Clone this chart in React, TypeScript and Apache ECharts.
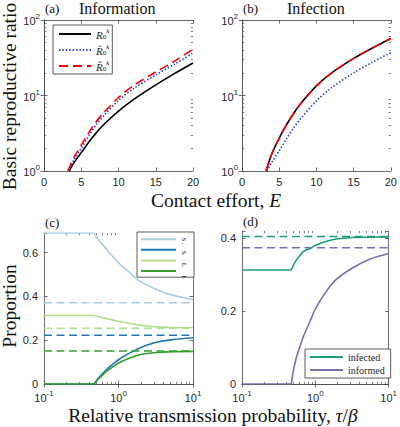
import { useEffect, useRef } from "react";
import * as echarts from "echarts";

// ---------- Panel (a) Information: E vs basic reproductive ratio ----------
const E_A_R0 = [3.4, 4, 5, 6, 7, 8, 10, 12, 15, 17.5, 20];
const R_A_R0 = [1, 1.28, 1.75, 2.4, 3.2, 4.1, 6.2, 8.8, 13.8, 19.5, 27];
const E_A_HAT = [3.25, 4, 5, 6, 7, 8, 10, 12, 15, 17.5, 20];
const R_A_HAT = [1, 1.4, 2.0, 2.9, 4.1, 5.4, 8.6, 12.3, 18.7, 26, 36.5];
const E_A_TIL = [3.2, 4, 5, 6, 7, 8, 10, 12, 15, 17.5, 20];
const R_A_TIL = [1, 1.5, 2.2, 3.2, 4.5, 5.9, 9.4, 13.5, 20.5, 28.5, 41];

// ---------- Panel (b) Infection ----------
const E_B_R0 = [3.22, 4, 5, 6, 7, 8, 10, 12, 15, 17.5, 20];
const R_B_R0 = [1, 1.68, 2.73, 4.13, 5.9, 8.05, 13.4, 19.8, 31, 42.5, 57];
const E_B_HAT = [3.35, 4, 5, 6, 7, 8, 10, 12, 15, 17.5, 20];
const R_B_HAT = [1, 1.3, 1.85, 2.7, 3.8, 5.1, 8.5, 12.6, 20, 27.5, 37];
const E_B_TIL = [3.22, 4, 5, 6, 7, 8, 10, 12, 15, 17.5, 20];
const R_B_TIL = [1, 1.68, 2.73, 4.13, 5.9, 8.05, 13.4, 19.8, 31, 42.5, 57];

// ---------- Panel (c) proportions vs tau/beta ----------
// index 0..1 is the flat part (tau below threshold), 1.. the curved part
const TAU = [0.1, 0.47, 0.5, 0.55, 0.62, 0.69, 0.85, 1, 1.42, 1.93, 3.24, 5.42, 10];
const C_SU = [0.69, 0.69, 0.675, 0.655, 0.635, 0.615, 0.58, 0.554, 0.508, 0.47, 0.432, 0.405, 0.386];
const C_SI = [0, 0, 0.013, 0.031, 0.05, 0.066, 0.092, 0.111, 0.142, 0.165, 0.191, 0.203, 0.211];
const C_IU = [0.313, 0.313, 0.311, 0.307, 0.303, 0.299, 0.292, 0.287, 0.277, 0.269, 0.261, 0.258, 0.257];
const C_II = [0, 0, 0.011, 0.026, 0.043, 0.058, 0.08, 0.096, 0.119, 0.134, 0.144, 0.148, 0.149];
const C_SU_EQ = 0.371;
const C_SI_EQ = 0.223;
const C_IU_EQ = 0.255;
const C_II_EQ = 0.151;
const C_LABELS = ["Sᵤ", "Sᵢ", "Iᵤ", "Iᵢ"];

// ---------- Panel (d) infected / informed ----------
const D_INFECTED = [0.313, 0.313, 0.325, 0.34, 0.353, 0.364, 0.372, 0.38, 0.392, 0.398, 0.402, 0.403, 0.404];
const D_INFORMED = [0, 0, 0.035, 0.072, 0.104, 0.131, 0.173, 0.206, 0.255, 0.287, 0.319, 0.342, 0.358];
const D_INFECTED_EQ = 0.405;
const D_INFORMED_EQ = 0.374;

const TAU_RANGE = [0.1, 10];
const R_MAJOR = [1, 10, 100];
const TAU_MAJOR = [0.1, 1, 10];
const LOG_MINOR_Y = [2, 3, 4, 5, 6, 7, 8, 9, 20, 30, 40, 50, 60, 70, 80, 90];
const LOG_MINOR_X = [0.2, 0.3, 0.4, 0.5, 0.6, 0.7, 0.8, 0.9, 2, 3, 4, 5, 6, 7, 8, 9];

const zip = (xs: number[], ys: number[]) => xs.map((x, i) => [x, ys[i]]);
const flat = (v: number) => TAU_RANGE.map((x) => [x, v]);

const AX = "#4a4a4a";
const TXT = "#262626";
const SANS = "Liberation Sans, Arial, sans-serif";
const SERIF = "Liberation Serif, Times New Roman, serif";

const supRich = {
  b: { fontSize: 11, fontFamily: SANS, color: TXT, verticalAlign: "bottom", lineHeight: 13 },
  e: { fontSize: 8, fontFamily: SANS, color: TXT, verticalAlign: "bottom", lineHeight: 13, padding: [0, 0, 6, 0] },
};
const expFmt = (v: number) => `{b|10}{e|${Math.round(Math.log10(v))}}`;

const COLORS = {
  su: "#a6cee3",
  si: "#1f78b4",
  iu: "#b2df8a",
  ii: "#33a02c",
  infected: "#1b9e77",
  informed: "#7570b3",
};

export default function App() {
  const ref = useRef<HTMLDivElement>(null);
  useEffect(() => {
    if (!ref.current) return;
    const chart = echarts.init(ref.current, undefined, { renderer: "svg" });

    const grids = [
      { left: 44, top: 20, width: 149, height: 151 },
      { left: 242, top: 20, width: 149, height: 151 },
      { left: 44, top: 233, width: 149, height: 151 },
      { left: 242, top: 231, width: 149, height: 153 },
    ];

    const axLine = { show: true, lineStyle: { color: AX, width: 0.8 } };
    const tick = (custom?: number[]) => ({
      show: true, inside: true, length: 3.5, lineStyle: { color: AX, width: 0.8 },
      ...(custom ? { customValues: custom } : {}),
    });
    const noLabel = { show: false };

    const mk = (g: number, pos: string, base: any, label: any, custom?: number[]) => ({
      gridIndex: g, position: pos, ...base, axisLine: axLine, axisTick: tick(custom), splitLine: { show: false }, axisLabel: label,
    });
    const minorAx = (g: number, pos: string, base: any, vals: number[]) => ({
      gridIndex: g, position: pos, ...base, axisLine: { show: false }, splitLine: { show: false }, axisLabel: { show: false },
      axisTick: { show: true, inside: true, length: 2.2, lineStyle: { color: AX, width: 0.7 }, customValues: vals },
    });

    const eBase = { type: "value", min: 0, max: 20, interval: 5 };
    const tauBase = { type: "log", logBase: 10, min: 0.1, max: 10 };
    const rBase = { type: "log", logBase: 10, min: 1, max: 100 };
    const cBase = { type: "value", min: 0, max: 0.69, interval: 0.2 };
    const dBase = { type: "value", min: 0, max: 0.42, interval: 0.2 };

    const numLabel = { show: true, color: TXT, fontSize: 11, fontFamily: SANS, margin: 5 };
    const propFmt = (v: number) => {
      const r = Math.round(v * 10) / 10;
      if (Math.abs(v - r) > 1e-6 || Math.abs(Math.round(r * 10) % 2) > 0) return "";
      return r === 0 ? "0" : String(r);
    };
    const tauLabel = { ...numLabel, margin: 6, formatter: expFmt, rich: supRich, customValues: TAU_MAJOR };
    const rLabelAx = { ...numLabel, margin: 4, formatter: expFmt, rich: supRich, customValues: R_MAJOR };

    const xAxis = [
      mk(0, "bottom", eBase, numLabel),
      mk(1, "bottom", eBase, numLabel),
      mk(2, "bottom", tauBase, tauLabel, TAU_MAJOR),
      mk(3, "bottom", tauBase, tauLabel, TAU_MAJOR),
      mk(0, "top", eBase, noLabel),
      mk(1, "top", eBase, noLabel),
      mk(2, "top", tauBase, noLabel, TAU_MAJOR),
      mk(3, "top", tauBase, noLabel, TAU_MAJOR),
      minorAx(2, "bottom", tauBase, LOG_MINOR_X),
      minorAx(3, "bottom", tauBase, LOG_MINOR_X),
      minorAx(2, "top", tauBase, LOG_MINOR_X),
      minorAx(3, "top", tauBase, LOG_MINOR_X),
    ];
    const yAxis = [
      mk(0, "left", rBase, rLabelAx, R_MAJOR),
      mk(1, "left", rBase, rLabelAx, R_MAJOR),
      mk(2, "left", cBase, { ...numLabel, margin: 6, formatter: propFmt }),
      mk(3, "left", dBase, { ...numLabel, margin: 6, formatter: propFmt }),
      mk(0, "right", rBase, noLabel, R_MAJOR),
      mk(1, "right", rBase, noLabel, R_MAJOR),
      mk(2, "right", cBase, noLabel),
      mk(3, "right", dBase, noLabel),
      minorAx(0, "left", rBase, LOG_MINOR_Y),
      minorAx(1, "left", rBase, LOG_MINOR_Y),
      minorAx(0, "right", rBase, LOG_MINOR_Y),
      minorAx(1, "right", rBase, LOG_MINOR_Y),
    ];

    const line = (name: string, gi: number, data: number[][], color: string, type: any, smooth: number | boolean = false, width = 1.6, z = 2) => ({
      name,
      type: "line",
      xAxisIndex: gi,
      yAxisIndex: gi,
      data,
      showSymbol: false,
      symbol: "none",
      smooth,
      z,
      lineStyle: { color, width, type, cap: "butt" },
      itemStyle: { color },
    });
    // flat part + curved part of a panel (c)/(d) curve
    const kinked = (name: string, gi: number, ys: number[], color: string) => [
      line(name + "-flat", gi, zip(TAU.slice(0, 2), ys.slice(0, 2)), color, "solid"),
      line(name, gi, zip(TAU.slice(1), ys.slice(1)), color, "solid", 0.3),
    ];

    const series: any[] = [
      line("R0", 0, zip(E_A_R0, R_A_R0), "#000000", "solid", 0.3, 1.6),
      line("R0hat", 0, zip(E_A_HAT, R_A_HAT), "#1f3fd6", [1.4, 2], 0.3, 1.7, 3),
      line("R0til", 0, zip(E_A_TIL, R_A_TIL), "#ff0000", [9, 5], 0.3, 1.6, 4),
      line("bR0", 1, zip(E_B_R0, R_B_R0), "#000000", "solid", 0.3, 1.6),
      line("bR0hat", 1, zip(E_B_HAT, R_B_HAT), "#1f3fd6", [1.4, 2], 0.3, 1.7, 3),
      line("bR0til", 1, zip(E_B_TIL, R_B_TIL), "#ff0000", [9, 5], 0.3, 1.6, 4),
      ...kinked("SU", 2, C_SU, COLORS.su),
      ...kinked("SI", 2, C_SI, COLORS.si),
      ...kinked("IU", 2, C_IU, COLORS.iu),
      ...kinked("II", 2, C_II, COLORS.ii),
      line("SU*", 2, flat(C_SU_EQ), COLORS.su, [8, 4.5]),
      line("SI*", 2, flat(C_SI_EQ), COLORS.si, [8, 4.5]),
      line("IU*", 2, flat(C_IU_EQ), COLORS.iu, [8, 4.5]),
      line("II*", 2, flat(C_II_EQ), COLORS.ii, [8, 4.5]),
      ...kinked("infected", 3, D_INFECTED, COLORS.infected),
      ...kinked("informed", 3, D_INFORMED, COLORS.informed),
      line("infected*", 3, flat(D_INFECTED_EQ), COLORS.infected, [8, 4.5]),
      line("informed*", 3, flat(D_INFORMED_EQ), COLORS.informed, [8, 4.5]),
    ];

    const rLabel: Record<string, string> = {
      R0: "{r|R}{s|0}{k|k}",
      R0hat: "{r|R\u0302}{s|0}{k|k}",
      R0til: "{r|R\u0303}{s|0}{k|k}",
    };
    const legendBox = {
      borderColor: "#333", borderWidth: 0.8, backgroundColor: "#fff", borderRadius: 0, orient: "vertical",
      itemStyle: { opacity: 0, borderWidth: 0 },
    };

    const legend = [
      {
        ...legendBox,
        data: ["R0", "R0hat", "R0til"],
        left: 53,
        top: 25,
        padding: [2, 3, 2, 5],
        itemWidth: 32,
        itemHeight: 10,
        itemGap: 3,
        formatter: (n: string) => rLabel[n],
        textStyle: {
          rich: {
            r: { fontFamily: SERIF, fontStyle: "italic", fontSize: 11, color: TXT, verticalAlign: "bottom", lineHeight: 12 },
            s: { fontFamily: SERIF, fontSize: 7, color: TXT, verticalAlign: "bottom", lineHeight: 12 },
            k: { fontFamily: SERIF, fontStyle: "italic", fontSize: 7, color: TXT, verticalAlign: "bottom", lineHeight: 12, padding: [0, 0, 6, 0] },
          },
        },
      },
      {
        ...legendBox,
        data: ["SU", "SI", "IU", "II"],
        left: 137,
        top: 232,
        padding: [4, 13, 3, 3],
        itemWidth: 35,
        itemHeight: 8,
        itemGap: 4.2,
        formatter: () => "",
        textStyle: { fontSize: 7, lineHeight: 8 },
      },
      {
        ...legendBox,
        data: ["infected", "informed"],
        left: 305,
        top: 349,
        padding: [3, 6, 3, 4],
        itemWidth: 33,
        itemHeight: 9,
        itemGap: 3,
        textStyle: { fontFamily: SERIF, fontSize: 10, color: TXT },
      },
    ];

    const t = (text: string, x: number, y: number, size: number, opts: any = {}) => ({
      type: "text",
      x,
      y,
      rotation: opts.rotation || 0,
      z: 100,
      style: {
        text,
        fontFamily: SERIF,
        fontSize: size,
        fill: "#111",
        align: opts.align || "left",
        verticalAlign: "middle",
        rich: opts.rich,
      },
    });
    const italicRich = {
      n: { fontFamily: SERIF, fontSize: 19.5, fill: "#111" },
      i: { fontFamily: SERIF, fontSize: 19.5, fontStyle: "italic", fill: "#111" },
    };

    const graphic = [
      t("(a)", 45, 8.5, 13),
      t("Information", 79, 8.5, 16),
      t("(b)", 243, 8.5, 13),
      t("Infection", 287, 8.5, 16),
      t("(c)", 45, 222, 13),
      t("(d)", 243, 221, 13),
      t("Basic reproductive ratio", 9.5, 96.5, 19.5, { rotation: Math.PI / 2, align: "center" }),
      t("Proportion", 9.5, 306, 19.5, { rotation: Math.PI / 2, align: "center" }),
      t("{n|Contact effort, }{i|E}", 216, 200, 19.5, { align: "center", rich: italicRich }),
      t("{n|Relative transmission probability, }{i|τ}{n|/}{i|β}", 213, 415, 19.5, { align: "center", rich: italicRich }),
      ...C_LABELS.map((s, i) => t(s, 184, 240.7 + i * 12.2, 7, { rotation: -Math.PI / 2, align: "center" })),
    ];

    chart.setOption({
      animation: false,
      backgroundColor: "#fff",
      grid: grids,
      xAxis,
      yAxis,
      series,
      legend,
      graphic,
    } as any);
    return () => chart.dispose();
  }, []);
  return <div ref={ref} style={{ position: "absolute", left: 0, top: 0, width: 400, height: 427 }} />;
}
